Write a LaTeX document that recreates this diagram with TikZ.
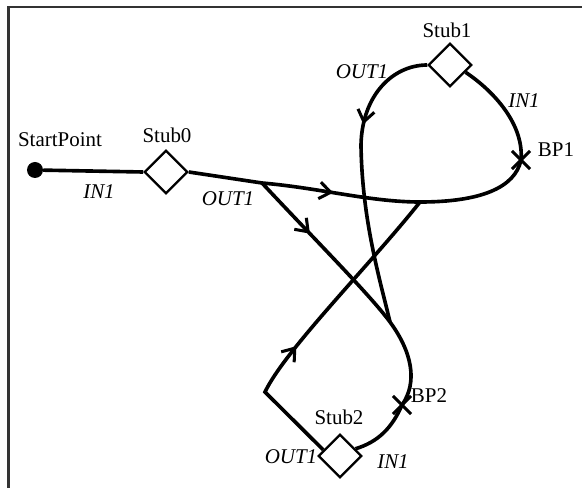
\documentclass[tikz,border=0pt]{standalone}
\usepackage{fontspec}
\setmainfont{Liberation Serif}
\usetikzlibrary{shapes.geometric}
\usetikzlibrary{shapes.misc}
\usetikzlibrary{arrows.meta}
\usetikzlibrary{decorations.markings}
\tikzset{
	wire/.style={line width=3.1pt},
	stub/.style={diamond, draw, line width=1.9pt, fill=white, inner sep=0pt, minimum size=1.3cm},
	bpmark/.style={cross out, draw, line width=2.6pt, inner sep=0pt, minimum size=0.45cm},
	portlbl/.style={font=\fontsize{17.9}{20}\selectfont\itshape},
	flow at/.style={postaction={decorate}, decoration={markings, mark=at position #1 with {\arrow{Straight Barb[length=3.4mm,width=5mm,line width=2.6pt]}}}},
	frame/.style={line width=1.8pt, black!80}
}
\begin{document}
\begin{tikzpicture}[x=0.03cm, y=-0.03cm, font=\fontsize{17.9}{20}\selectfont]
		\useasboundingbox (0,0) rectangle (582,488);
		\draw [frame] (8.5,488) -- (8.5,7) -- (582,7);
		\node [circle, fill, inner sep=0pt, minimum size=0.48cm] at (35,170) (start) {};
		\node [stub] at (166,172) (stub0) {};
		\node [stub] at (450,65) (stub1) {};
		\node [stub] at (340,456) (stub2) {};
		\coordinate (fork) at (262,183);
		\coordinate (j1) at (420,202);
		\coordinate (j2) at (390,322);
		\coordinate (bend1) at (361,145);
		\coordinate (bend2) at (265,392);
		\coordinate (bp1) at (521,160);
		\coordinate (bp2) at (402,405);
		\node at (60,140) (startlbl) {StartPoint};
		\node at (167,135) (stub0lbl) {Stub0};
		\node at (447,30) (stub1lbl) {Stub1};
		\node at (339,417) (stub2lbl) {Stub2};
		\node at (556,150) (bp1lbl) {BP1};
		\node at (429,396) (bp2lbl) {BP2};
		\node [portlbl] at (99,192) (in0) {IN1};
		\node [portlbl] at (228,199) (out0) {OUT1};
		\node [portlbl] at (362,72) (out1) {OUT1};
		\node [portlbl] at (524,101) (in1) {IN1};
		\node [portlbl] at (291,457) (out2) {OUT1};
		\node [portlbl] at (393,462) (in2) {IN1};
		\draw [wire] (start) -- (stub0.west);
		\draw [wire] (stub0.east) -- (fork);
		\draw [wire, flow at=0.26] (fork) .. controls (320,188) and (370,202) .. (j1) .. controls (480,202) and (515,188) .. (bp1);
		\draw [wire] (bp1) .. controls (524,125) and (495,92) .. (stub1.-25);
		\draw [wire, flow at=0.32] (stub1.west) .. controls (393,65) and (362,95) .. (bend1) .. controls (362,220) and (380,280) .. (j2);
		\draw [wire, flow at=0.25] (fork) .. controls (320,245) and (370,295) .. (j2) .. controls (412,352) and (418,382) .. (bp2);
		\draw [wire] (bp2) .. controls (392,428) and (378,442) .. (stub2.25);
		\draw [wire, flow at=0.42] (stub2.160) -- (bend2) .. controls (285,350) and (370,265) .. (j1);
		\node [bpmark] at (bp1) (bp1mark) {};
		\node [bpmark] at (bp2) (bp2mark) {};
		\end{tikzpicture}
\end{document}
